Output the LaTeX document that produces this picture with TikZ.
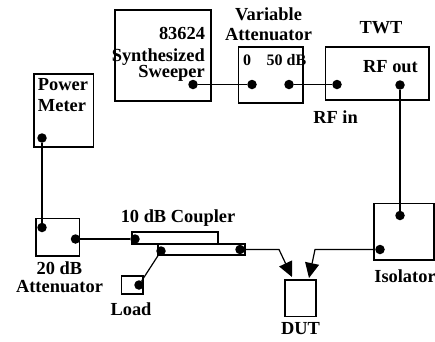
\documentclass[tikz,border=0pt]{standalone}
\usepackage{fontspec}
\setmainfont{Liberation Serif}
\usetikzlibrary{arrows.meta}
\tikzset{
  unit/.style={draw,line width=1.2pt,inner sep=0pt},
  port/.style={circle,fill=black,inner sep=0pt,minimum size=9.5pt},
  lbl/.style={font=\bfseries\fontsize{18.4}{18.4}\selectfont,inner sep=0pt},
  smalllbl/.style={font=\bfseries\fontsize{16}{16}\selectfont,inner sep=0pt},
  wire/.style={line width=1.2pt},
  feed/.style={line width=1.2pt,-{Triangle[length=15pt,width=14pt]}}
}
\begin{document}
\begin{tikzpicture}[x=1pt,y=-1pt]
  \useasboundingbox (0,0) rectangle (435,341);

  %boxes
  \draw[] (163,55.5) node[unit,minimum width=96,minimum height=91] (sweeper) {};
  \draw[] (63.7,110.5) node[unit,minimum width=59.5,minimum height=73] (meter) {};
  \draw[] (270.7,75) node[unit,minimum width=64.5,minimum height=56] (varatt) {};
  \draw[] (377.2,73.5) node[unit,minimum width=103.5,minimum height=53] (twt) {};
  \draw[] (57.7,237.2) node[unit,minimum width=43.5,minimum height=37.5] (att) {};
  \draw[] (175,238) node[unit,minimum width=86,minimum height=12] (coupA) {};
  \draw[] (201.5,249.5) node[unit,minimum width=87,minimum height=11] (coupB) {};
  \draw[] (132.2,285) node[unit,minimum width=21.5,minimum height=18] (load) {};
  \draw[] (404,231.7) node[unit,minimum width=60,minimum height=56.5] (isolator) {};
  \draw[] (300.5,298.2) node[unit,minimum width=31,minimum height=36.5] (dut) {};

  %ports
  \draw[] (193,84.5) node[port] (pSweep) {};
  \draw[] (252,84.5) node[port] (pZero) {};
  \draw[] (289,84.5) node[port] (pFifty) {};
  \draw[] (337,84.5) node[port] (pIn) {};
  \draw[] (400,85) node[port] (pOut) {};
  \draw[] (400,215.5) node[port] (pIsoA) {};
  \draw[] (380,249.5) node[port] (pIsoB) {};
  \draw[] (42,138) node[port] (pMeter) {};
  \draw[] (42,227.5) node[port] (pAttA) {};
  \draw[] (75.5,239) node[port] (pAttB) {};
  \draw[] (135,239) node[port] (pCoupIn) {};
  \draw[] (161,251) node[port] (pCoupSide) {};
  \draw[] (240,249.5) node[port] (pCoupOut) {};
  \draw[] (139,285) node[port] (pLoad) {};

  %bends
  \coordinate (bendL) at (279,249.5);
  \coordinate (tipL) at (292,277);
  \coordinate (bendR) at (315,249.5);
  \coordinate (tipR) at (309,278);

  %wires
  \draw[wire] (pSweep) -- (pZero);
  \draw[wire] (pFifty) -- (pIn);
  \draw[wire] (pOut) -- (pIsoA);
  \draw[wire] (pMeter) -- (pAttA);
  \draw[wire] (pAttB) -- (pCoupIn);
  \draw[wire] (pCoupSide) -- (pLoad);
  \draw[feed] (pCoupOut) -- (bendL) -- (tipL);
  \draw[feed] (pIsoB) -- (bendR) -- (tipR);

  %labels
  \draw[] (182,33) node[lbl] (tSweepA) {83624};
  \draw[] (205,63) node[lbl,anchor=east,align=right,text depth=0pt] (tSweepB) {Synthesized\\[-2.4pt]Sweeper};
  \draw[] (63,95.5) node[lbl,align=left] (tMeter) {Power\\[2.6pt]Meter};
  \draw[] (268.5,24) node[lbl,align=center] (tVar) {Variable\\[1.6pt]Attenuator};
  \draw[] (247,60) node[smalllbl] (tZero) {0};
  \draw[] (286.5,60) node[smalllbl] (tFifty) {50 dB};
  \draw[] (381,28) node[lbl] (tTwt) {TWT};
  \draw[] (390.5,67) node[lbl] (tOut) {RF out};
  \draw[] (335.5,117) node[lbl] (tIn) {RF in};
  \draw[] (178,218) node[lbl] (tCoup) {10 dB Coupler};
  \draw[] (59.5,277) node[lbl,align=center] (tAtt) {20 dB\\[-0.4pt]Attenuator};
  \draw[] (131,309) node[lbl] (tLoad) {Load};
  \draw[] (300.5,329) node[lbl] (tDut) {DUT};
  \draw[] (405,276) node[lbl] (tIso) {Isolator};
\end{tikzpicture}
\end{document}
